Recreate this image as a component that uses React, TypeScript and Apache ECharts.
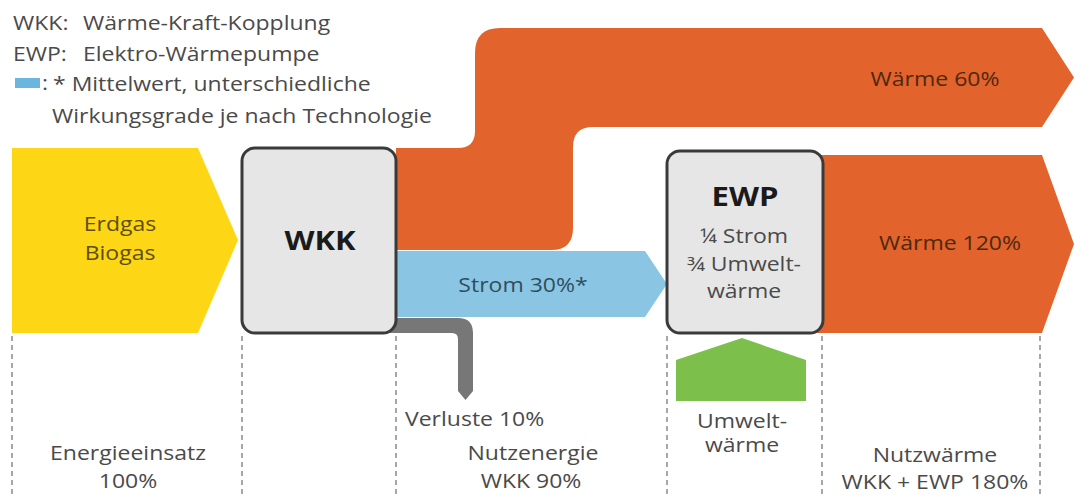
import React, { useEffect, useRef } from "react";
import * as echarts from "echarts";

// ---- data (percentages of primary energy) ----
const sourceNames = ["Erdgas", "Biogas"];
const inputPct = [100];
const wkkHeatPct = [60];
const wkkPowerPct = [30];
const wkkLossPct = [10];
const ewpHeatPct = [120];
const ewpParts = ["¼ Strom", "¾ Umwelt-", "wärme"];
const stageTitles = ["Energieeinsatz", "Nutzenergie", "Nutzwärme"];
const stageSubs = [`${inputPct[0]}%`, `WKK ${wkkHeatPct[0] + wkkPowerPct[0]}%`, `WKK + EWP ${wkkHeatPct[0] + ewpHeatPct[0]}%`];
const legendKeys = ["WKK:", "EWP:"];
const legendTexts = ["Wärme-Kraft-Kopplung", "Elektro-Wärmepumpe"];
const noteLines = ["* Mittelwert, unterschiedliche", "Wirkungsgrade je nach Technologie"];

// ---- shapes ----
const sPath =
  "M396 148 L458 148 Q475 148 475 131 L475 53 Q475 28 500 28 L1042 28 L1074 77.5 L1042 127 L593 127 Q573 127 573 147 L573 228 Q573 250 551 250 L396 250 Z";
const lossPath =
  "M390 318 L458 318 Q473 318 473 333 L473 391 L465.5 400 L458 391 L458 339 Q458 333 452 333 L390 333 Z";
try {
  echarts.graphic.registerShape("heatS", echarts.graphic.extendPath(sPath, {}) as any);
  echarts.graphic.registerShape("lossL", echarts.graphic.extendPath(lossPath, {}) as any);
} catch (e) {}

const FONT = "'Open Sans', 'Noto Sans', sans-serif";
const SX = 1.15;
const GREY_TXT = "#4a4a4a";

function txt(text: string, x: number, y: number, opts: any = {}) {
  return {
    type: "text",
    x,
    y,
    scaleX: opts.scaleX ?? SX,
    z: 50,
    style: {
      text,
      x: 0,
      y: 0,
      fill: opts.fill ?? GREY_TXT,
      fontSize: opts.fontSize ?? 20,
      fontFamily: FONT,
      fontWeight: opts.fontWeight ?? "normal",
      align: opts.align ?? "center",
      verticalAlign: "middle",
    },
  };
}

export default function App() {
  const ref = useRef<HTMLDivElement>(null);
  useEffect(() => {
    if (!ref.current) return;
    const chart = echarts.init(ref.current, null, { renderer: "svg" });
    const dashX = [12, 242, 396, 667, 822, 1040];
    const elements: any[] = [];
    dashX.forEach((x) =>
      elements.push({
        type: "line",
        z: 1,
        shape: { x1: x, y1: 336, x2: x, y2: 495 },
        style: { stroke: "#8a8a8a", lineWidth: 1.5, lineDash: [5, 4] },
      })
    );
    elements.push(
      { type: "polygon", z: 5, shape: { points: [[12, 148], [198, 148], [238, 240], [198, 333], [12, 333]] }, style: { fill: "#fdd616" } },
      { type: "heatS", z: 5, x: 0, y: 0, style: { fill: "#e2632b" } },
      { type: "polygon", z: 5, shape: { points: [[815, 155], [1042, 155], [1074, 244], [1042, 333], [815, 333]] }, style: { fill: "#e2632b" } },
      { type: "polygon", z: 5, shape: { points: [[390, 251], [645, 251], [667, 284], [645, 317], [390, 317]] }, style: { fill: "#8ac6e4" } },
      { type: "lossL", z: 5, x: 0, y: 0, style: { fill: "#777777" } },
      { type: "polygon", z: 5, shape: { points: [[676, 401], [676, 360], [742, 338], [806, 360], [806, 401]] }, style: { fill: "#7dbf4b" } },
      { type: "rect", z: 10, shape: { x: 242, y: 148, width: 154, height: 185, r: 13 }, style: { fill: "#e6e6e6", stroke: "#3a3a3a", lineWidth: 3 } },
      { type: "rect", z: 10, shape: { x: 667, y: 151, width: 156, height: 182, r: 13 }, style: { fill: "#e6e6e6", stroke: "#3a3a3a", lineWidth: 3 } },
      { type: "rect", z: 10, shape: { x: 15, y: 78, width: 25, height: 10 }, style: { fill: "#6cb5dd" } }
    );
    // legend
    elements.push(
      txt(legendKeys[0], 13, 22, { align: "left" }),
      txt(legendTexts[0], 83, 22, { align: "left" }),
      txt(legendKeys[1], 13, 53, { align: "left" }),
      txt(legendTexts[1], 83, 53, { align: "left" }),
      txt(":", 42, 82, { align: "left" }),
      txt(noteLines[0], 53, 83, { align: "left" }),
      txt(noteLines[1], 52, 115, { align: "left" })
    );
    // labels inside diagram
    elements.push(
      txt(sourceNames[0], 120, 223, { fill: "#5c4e08" }),
      txt(sourceNames[1], 120, 252, { fill: "#5c4e08" }),
      txt("WKK", 320, 240, { fontWeight: "bold", fontSize: 27, fill: "#1a1a1a" }),
      txt(`Strom ${wkkPowerPct[0]}%*`, 523, 284, { fill: "#2f4e5d" }),
      txt("EWP", 745, 196, { fontWeight: "bold", fontSize: 27, fill: "#1a1a1a" }),
      txt(ewpParts[0], 744, 235),
      txt(ewpParts[1], 744, 263),
      txt(ewpParts[2], 744, 290),
      txt(`Wärme ${wkkHeatPct[0]}%`, 935, 78, { fill: "#4e2812" }),
      txt(`Wärme ${ewpHeatPct[0]}%`, 950, 242, { fill: "#4e2812" }),
      txt(`Verluste ${wkkLossPct[0]}%`, 405, 418, { align: "left" }),
      txt(stageTitles[0], 128, 452),
      txt(stageSubs[0], 128, 480),
      txt(stageTitles[1], 533, 452),
      txt(stageSubs[1], 531, 480),
      txt("Umwelt-", 742, 420),
      txt("wärme", 742, 444),
      txt(stageTitles[2], 935, 454),
      txt(stageSubs[2], 935, 481)
    );
    chart.setOption({ animation: false, graphic: { elements } });
    return () => chart.dispose();
  }, []);
  return (
    <div
      ref={ref}
      style={{ position: "fixed", left: 0, top: 0, width: 1074, height: 495, background: "#fff" }}
    />
  );
}
